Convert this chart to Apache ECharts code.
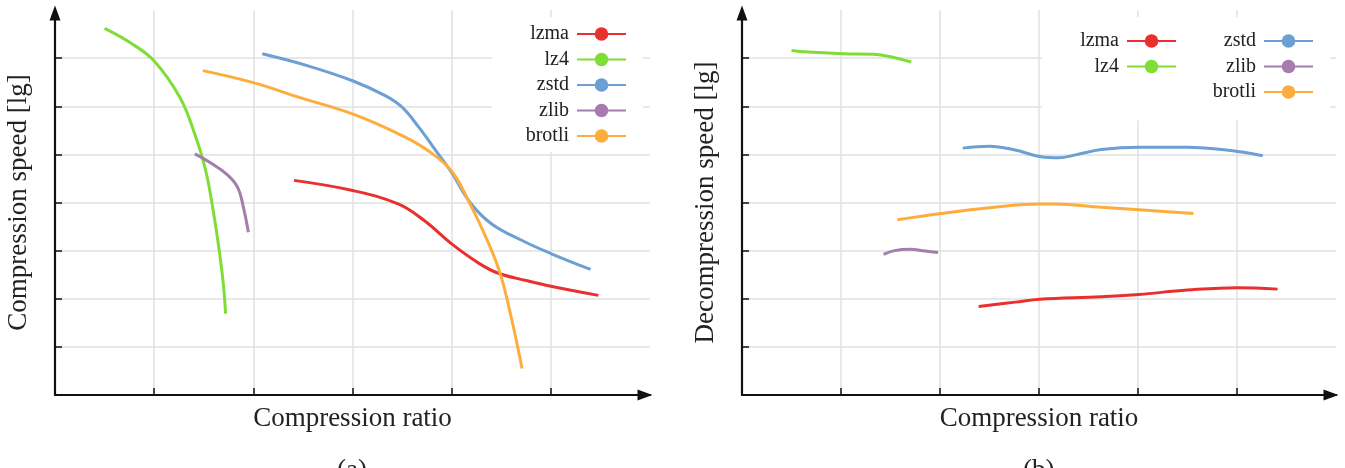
<!DOCTYPE html>
<html>
<head>
<meta charset="utf-8">
<script src="https://cdn.jsdelivr.net/npm/echarts@6/dist/echarts.min.js"></script>
<style>
html,body{margin:0;padding:0;background:#fff;}
#chart{width:1345px;height:468px;}
</style>
</head>
<body>
<div id="chart"></div>
<script>
// ---- data (x: compression ratio, y: speed [lg]) ----
const seriesNames = ['lzma', 'lz4', 'zstd', 'zlib', 'brotli'];
const seriesColors = ['#e8302f', '#80dc36', '#6c9fd3', '#a57cad', '#fcad3c'];

// (a) compression speed
const lzmaA = [[2.41,4.46],[3.0,4.25],[3.46,3.97],[3.72,3.63],[4.0,3.14],[4.28,2.73],[4.47,2.53],[4.75,2.38],[5.0,2.26],[5.48,2.07]];
const lz4A = [[0.50,7.62],[0.76,7.32],[1.0,6.94],[1.26,6.18],[1.41,5.42],[1.52,4.66],[1.60,3.77],[1.66,2.94],[1.70,2.25],[1.72,1.69]];
const zstdA = [[2.09,7.09],[2.55,6.84],[3.0,6.53],[3.33,6.22],[3.50,5.98],[3.67,5.56],[3.84,5.08],[4.0,4.62],[4.19,3.99],[4.40,3.56],[4.71,3.21],[5.0,2.94],[5.40,2.61]];
const zlibA = [[1.41,5.01],[1.58,4.81],[1.73,4.59],[1.84,4.32],[1.90,3.90],[1.95,3.38]];
const brotliA = [[1.49,6.74],[2.0,6.49],[2.47,6.18],[3.0,5.84],[3.50,5.39],[3.76,5.08],[4.0,4.65],[4.19,3.95],[4.36,3.21],[4.49,2.52],[4.60,1.62],[4.71,0.55]];

// (b) decompression speed
const lzmaB = [[2.39,1.84],[2.76,1.93],[3.01,1.99],[3.63,2.04],[4.01,2.09],[4.50,2.18],[5.00,2.23],[5.41,2.20]];
const lz4B = [[0.50,7.16],[0.72,7.12],[1.02,7.09],[1.33,7.08],[1.50,7.03],[1.71,6.92]];
const zstdB = [[2.23,5.13],[2.50,5.17],[2.76,5.09],[3.02,4.95],[3.20,4.93],[3.37,4.99],[3.63,5.10],[4.01,5.15],[4.50,5.15],[4.94,5.08],[5.26,4.97]];
const zlibB = [[1.43,2.92],[1.54,3.00],[1.70,3.03],[1.85,2.99],[1.98,2.96]];
const brotliB = [[1.57,3.64],[2.01,3.77],[2.50,3.89],[3.01,3.97],[3.15,3.97],[3.63,3.90],[4.01,3.85],[4.56,3.77]];

const dataA = [lzmaA, lz4A, zstdA, zlibA, brotliA];
const dataB = [lzmaB, lz4B, zstdB, zlibB, brotliB];

const xTickValues = [1, 2, 3, 4, 5];
const yTickValues = [1, 2, 3, 4, 5, 6, 7];

const xAxisName = 'Compression ratio';
const yAxisNames = ['Compression speed [lg]', 'Decompression speed [lg]'];
const captions = ['(a)', '(b)'];

// ---- styling ----
const FONT = '"Liberation Serif", "Times New Roman", serif';
const TXT = '#222';

function xAxis(gi) {
  return {
    type: 'value', gridIndex: gi, min: 0, max: 6, interval: 1,
    name: xAxisName, nameLocation: 'middle', nameGap: 10,
    nameTextStyle: { fontFamily: FONT, fontSize: 27, color: TXT },
    axisLine: { show: true, lineStyle: { color: '#111', width: 2.2 },
      symbol: ['none', 'triangle'], symbolSize: [11, 15], symbolOffset: [0, -5] },
    axisTick: { show: true, inside: true, length: 7, customValues: xTickValues,
      lineStyle: { color: '#111', width: 1.5 } },
    axisLabel: { show: false },
    splitLine: { show: true, lineStyle: { color: '#e0e0e0', width: 1.5 } }
  };
}
function yAxis(gi) {
  return {
    type: 'value', gridIndex: gi, min: 0, max: 8, interval: 1,
    name: yAxisNames[gi], nameLocation: 'middle', nameGap: 23, nameRotate: 90,
    nameTextStyle: { fontFamily: FONT, fontSize: 27, color: TXT },
    axisLine: { show: true, lineStyle: { color: '#111', width: 2.2 },
      symbol: ['none', 'triangle'], symbolSize: [11, 15], symbolOffset: [0, -3] },
    axisTick: { show: true, inside: true, length: 7, customValues: yTickValues,
      lineStyle: { color: '#111', width: 1.5 } },
    axisLabel: { show: false },
    splitLine: { show: true, lineStyle: { color: '#e0e0e0', width: 1.5 } }
  };
}

const series = [];
[dataA, dataB].forEach(function (set, gi) {
  set.forEach(function (d, i) {
    series.push({
      type: 'line', name: seriesNames[i], xAxisIndex: gi, yAxisIndex: gi,
      data: d, smooth: 0.4, symbol: 'circle', showSymbol: false,
      color: seriesColors[i],
      lineStyle: { width: 3, color: seriesColors[i] },
      z: 3
    });
  });
});

const legendText = { fontFamily: FONT, fontSize: 20, color: TXT, lineHeight: 20, padding: [0, 3, 0, 0] };

const option = {
  animation: false,
  backgroundColor: '#fff',
  grid: [
    { left: 55, right: 695, top: 10, bottom: 73, outerBoundsMode: 'none' },
    { left: 742, right: 9, top: 10, bottom: 73, outerBoundsMode: 'none' }
  ],
  xAxis: [xAxis(0), xAxis(1)],
  yAxis: [yAxis(0), yAxis(1)],
  legend: [
    {
      data: seriesNames, orient: 'vertical', align: 'right',
      right: 702, top: 17, padding: [7, 16, 6, 34],
      itemWidth: 49, itemHeight: 17, itemGap: 5.5,
      backgroundColor: '#fff', textStyle: legendText, z: 4
    },
    {
      data: ['lzma', 'lz4'], orient: 'vertical', align: 'right',
      right: 15, top: 17, padding: [14, 153, 44, 38],
      itemWidth: 49, itemHeight: 17, itemGap: 5.5,
      backgroundColor: '#fff', textStyle: legendText, z: 4
    },
    {
      data: ['zstd', 'zlib', 'brotli'], orient: 'vertical', align: 'right',
      right: 31, top: 31, padding: 0,
      itemWidth: 49, itemHeight: 17, itemGap: 5.5,
      textStyle: legendText, z: 5
    }
  ],
  graphic: [
    { type: 'text', left: 337, top: 457, z: 10,
      style: { text: captions[0], font: '27px ' + FONT, fill: TXT } },
    { type: 'text', left: 1023, top: 457, z: 10,
      style: { text: captions[1], font: '27px ' + FONT, fill: TXT } }
  ],
  series: series
};

const chart = echarts.init(document.getElementById('chart'), null, { renderer: 'canvas' });
chart.setOption(option);
</script>
</body>
</html>
